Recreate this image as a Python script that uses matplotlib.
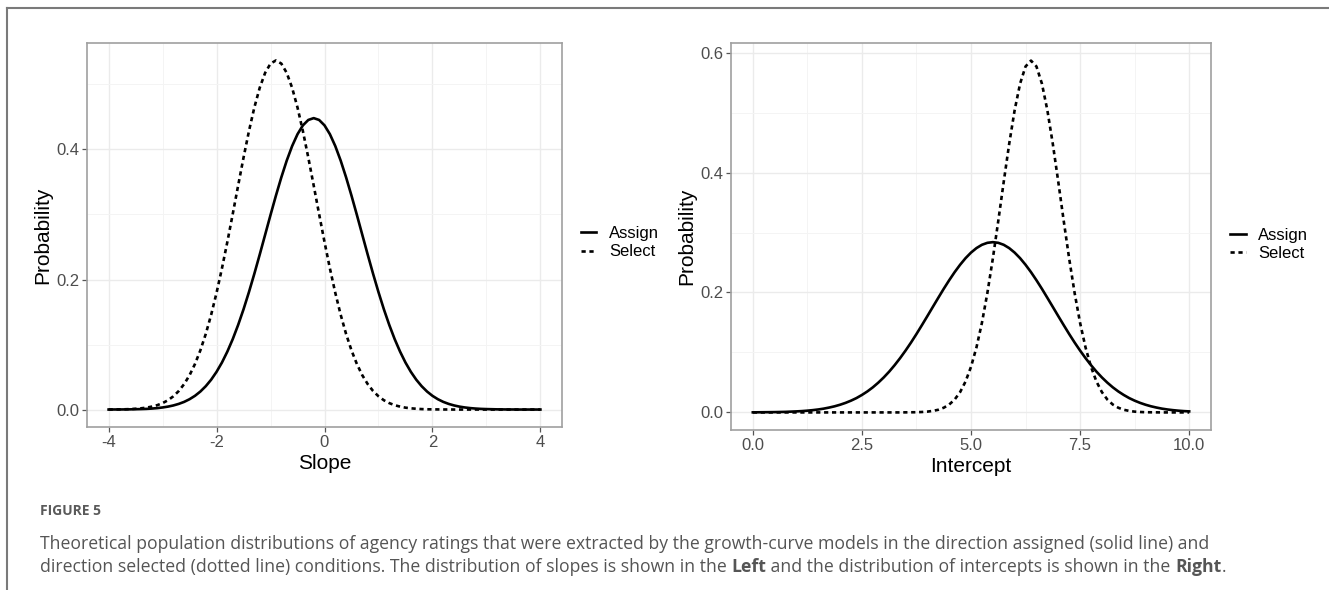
import numpy as np
import matplotlib
matplotlib.use("Agg")
import matplotlib.pyplot as plt
from matplotlib.lines import Line2D
from matplotlib.transforms import IdentityTransform

plt.rcParams['font.family'] = ['Liberation Sans', 'DejaVu Sans']
plt.rcParams['axes.unicode_minus'] = False

slope_x = np.linspace(-4, 4, 81)
slope_assign = [0.0000, 0.0001, 0.0001, 0.0002, 0.0003, 0.0005, 0.0007, 0.0010, 0.0015, 0.0022,
                0.0032, 0.0045, 0.0063, 0.0087, 0.0118, 0.0159, 0.0211, 0.0277, 0.0359, 0.0459,
                0.0580, 0.0723, 0.0891, 0.1083, 0.1301, 0.1542, 0.1806, 0.2088, 0.2384, 0.2688,
                0.2993, 0.3290, 0.3571, 0.3828, 0.4052, 0.4235, 0.4371, 0.4454, 0.4482, 0.4454,
                0.4371, 0.4235, 0.4052, 0.3828, 0.3571, 0.3290, 0.2993, 0.2688, 0.2384, 0.2088,
                0.1806, 0.1542, 0.1301, 0.1083, 0.0891, 0.0723, 0.0580, 0.0459, 0.0359, 0.0277,
                0.0211, 0.0159, 0.0118, 0.0087, 0.0063, 0.0045, 0.0032, 0.0022, 0.0015, 0.0010,
                0.0007, 0.0005, 0.0003, 0.0002, 0.0001, 0.0001, 0.0000, 0.0000, 0.0000, 0.0000,
                0.0000]
slope_select = [0.0001, 0.0002, 0.0003, 0.0004, 0.0007, 0.0012, 0.0019, 0.0029, 0.0045, 0.0067,
                0.0099, 0.0143, 0.0204, 0.0285, 0.0392, 0.0528, 0.0700, 0.0910, 0.1162, 0.1457,
                0.1795, 0.2171, 0.2578, 0.3007, 0.3445, 0.3875, 0.4281, 0.4645, 0.4949, 0.5178,
                0.5321, 0.5369, 0.5321, 0.5178, 0.4949, 0.4645, 0.4281, 0.3875, 0.3445, 0.3007,
                0.2578, 0.2171, 0.1795, 0.1457, 0.1162, 0.0910, 0.0700, 0.0528, 0.0392, 0.0285,
                0.0204, 0.0143, 0.0099, 0.0067, 0.0045, 0.0029, 0.0019, 0.0012, 0.0007, 0.0004,
                0.0003, 0.0002, 0.0001, 0.0001, 0.0000, 0.0000, 0.0000, 0.0000, 0.0000, 0.0000,
                0.0000, 0.0000, 0.0000, 0.0000, 0.0000, 0.0000, 0.0000, 0.0000, 0.0000, 0.0000,
                0.0000]

icpt_x = np.linspace(0, 10, 81)
icpt_assign = [0.0001, 0.0002, 0.0003, 0.0004, 0.0005, 0.0007, 0.0009, 0.0013, 0.0017, 0.0022,
               0.0029, 0.0038, 0.0049, 0.0063, 0.0081, 0.0102, 0.0128, 0.0159, 0.0196, 0.0239,
               0.0291, 0.0350, 0.0418, 0.0496, 0.0583, 0.0680, 0.0788, 0.0905, 0.1031, 0.1165,
               0.1307, 0.1455, 0.1606, 0.1759, 0.1911, 0.2061, 0.2204, 0.2339, 0.2462, 0.2572,
               0.2665, 0.2740, 0.2795, 0.2828, 0.2839, 0.2828, 0.2795, 0.2740, 0.2665, 0.2572,
               0.2462, 0.2339, 0.2204, 0.2061, 0.1911, 0.1759, 0.1606, 0.1455, 0.1307, 0.1165,
               0.1031, 0.0905, 0.0788, 0.0680, 0.0583, 0.0496, 0.0418, 0.0350, 0.0291, 0.0239,
               0.0196, 0.0159, 0.0128, 0.0102, 0.0081, 0.0063, 0.0049, 0.0038, 0.0029, 0.0022,
               0.0017]
icpt_select = [0.0000, 0.0000, 0.0000, 0.0000, 0.0000, 0.0000, 0.0000, 0.0000, 0.0000, 0.0000,
               0.0000, 0.0000, 0.0000, 0.0000, 0.0000, 0.0000, 0.0000, 0.0000, 0.0000, 0.0000,
               0.0000, 0.0000, 0.0000, 0.0000, 0.0000, 0.0000, 0.0000, 0.0000, 0.0001, 0.0002,
               0.0003, 0.0007, 0.0013, 0.0025, 0.0044, 0.0078, 0.0131, 0.0214, 0.0338, 0.0515,
               0.0760, 0.1083, 0.1493, 0.1990, 0.2564, 0.3193, 0.3846, 0.4477, 0.5039, 0.5483,
               0.5769, 0.5867, 0.5769, 0.5483, 0.5039, 0.4477, 0.3846, 0.3193, 0.2564, 0.1990,
               0.1493, 0.1083, 0.0760, 0.0515, 0.0338, 0.0214, 0.0131, 0.0078, 0.0044, 0.0025,
               0.0013, 0.0007, 0.0003, 0.0002, 0.0001, 0.0000, 0.0000, 0.0000, 0.0000, 0.0000,
               0.0000]

series_names = ['Assign', 'Select']

W, H = 1329, 590
fig = plt.figure(figsize=(W / 100, H / 100), dpi=100)


def px_axes(x0, y0, x1, y1):
    # axes box given in pixels from the top left corner
    return fig.add_axes([x0 / W, 1 - y1 / H, (x1 - x0) / W, (y1 - y0) / H])


def style(ax, xmaj, xmin, ymaj, ymin, xlabel):
    ax.set_xticks(xmaj)
    ax.set_xticks(xmin, minor=True)
    ax.set_yticks(ymaj)
    ax.set_yticks(ymin, minor=True)
    ax.grid(True, which='major', color='#EBEBEB', lw=1.0)
    ax.grid(True, which='minor', color='#F4F4F4', lw=0.7)
    ax.set_axisbelow(True)
    for sp in ax.spines.values():
        sp.set_color('#A0A0A0')
        sp.set_linewidth(1.2)
    ax.tick_params(which='major', length=3.5, width=0.9, color='#555555',
                   labelcolor='#4D4D4D', labelsize=12, pad=2)
    ax.tick_params(which='minor', length=0)
    ax.set_xlabel(xlabel, fontsize=15, labelpad=3)
    ax.set_ylabel('Probability', fontsize=15, labelpad=3)
    ax.legend(loc='center left', bbox_to_anchor=(1.025, 0.48), frameon=False,
              fontsize=12, handlelength=0.95, handletextpad=0.75, labelspacing=0.2,
              borderaxespad=0)


dashed = (0, (1.6, 1.4))

ax1 = px_axes(87, 43, 562, 427)
ax1.plot(slope_x, slope_assign, color='black', lw=1.9, label=series_names[0])
ax1.plot(slope_x, slope_select, color='black', lw=1.9, ls=dashed, label=series_names[1])
style(ax1, [-4, -2, 0, 2, 4], [-3, -1, 1, 3], [0, 0.2, 0.4], [0.1, 0.3, 0.5], 'Slope')
ax1.set_yticklabels(['0.0', '0.2', '0.4'])

ax2 = px_axes(731, 43, 1211, 430)
ax2.plot(icpt_x, icpt_assign, color='black', lw=1.9, label=series_names[0])
ax2.plot(icpt_x, icpt_select, color='black', lw=1.9, ls=dashed, label=series_names[1])
style(ax2, [0, 2.5, 5, 7.5, 10], [1.25, 3.75, 6.25, 8.75], [0, 0.2, 0.4, 0.6],
      [0.1, 0.3, 0.5], 'Intercept')
ax2.set_xticklabels(['0.0', '2.5', '5.0', '7.5', '10.0'])
ax2.set_yticklabels(['0.0', '0.2', '0.4', '0.6'])

# page frame
fig.add_artist(Line2D([7, 7], [0, H - 8], transform=IdentityTransform(), color='#7A7A7A', lw=1.5))
fig.add_artist(Line2D([7, W], [H - 8, H - 8], transform=IdentityTransform(), color='#7A7A7A', lw=1.5))

# caption
cap_font = ['Open Sans', 'DejaVu Sans']
fig.text(40, H - 511, 'FIGURE 5', transform=IdentityTransform(), family=cap_font,
         fontsize=10, fontweight='bold', color='#5A5A5A', va='center')
renderer = fig.canvas.get_renderer()


def runs(x, y, parts):
    for s, w in parts:
        t = fig.text(x, y, s, transform=IdentityTransform(), family=cap_font,
                     fontsize=12.7, fontweight=w, color='#555555', va='baseline')
        x += t.get_window_extent(renderer).width


runs(40, H - 549, [("Theoretical population distributions of agency ratings that were extracted by the "
                    "growth-curve models in the direction assigned (solid line) and", 'normal')])
runs(40, H - 572, [("direction selected (dotted line) conditions. The distribution of slopes is shown in the ",
                    'normal'), ("Left", 'bold'),
                   (" and the distribution of intercepts is shown in the ", 'normal'),
                   ("Right", 'bold'), (".", 'normal')])

fig.savefig('out.png', dpi=100)
